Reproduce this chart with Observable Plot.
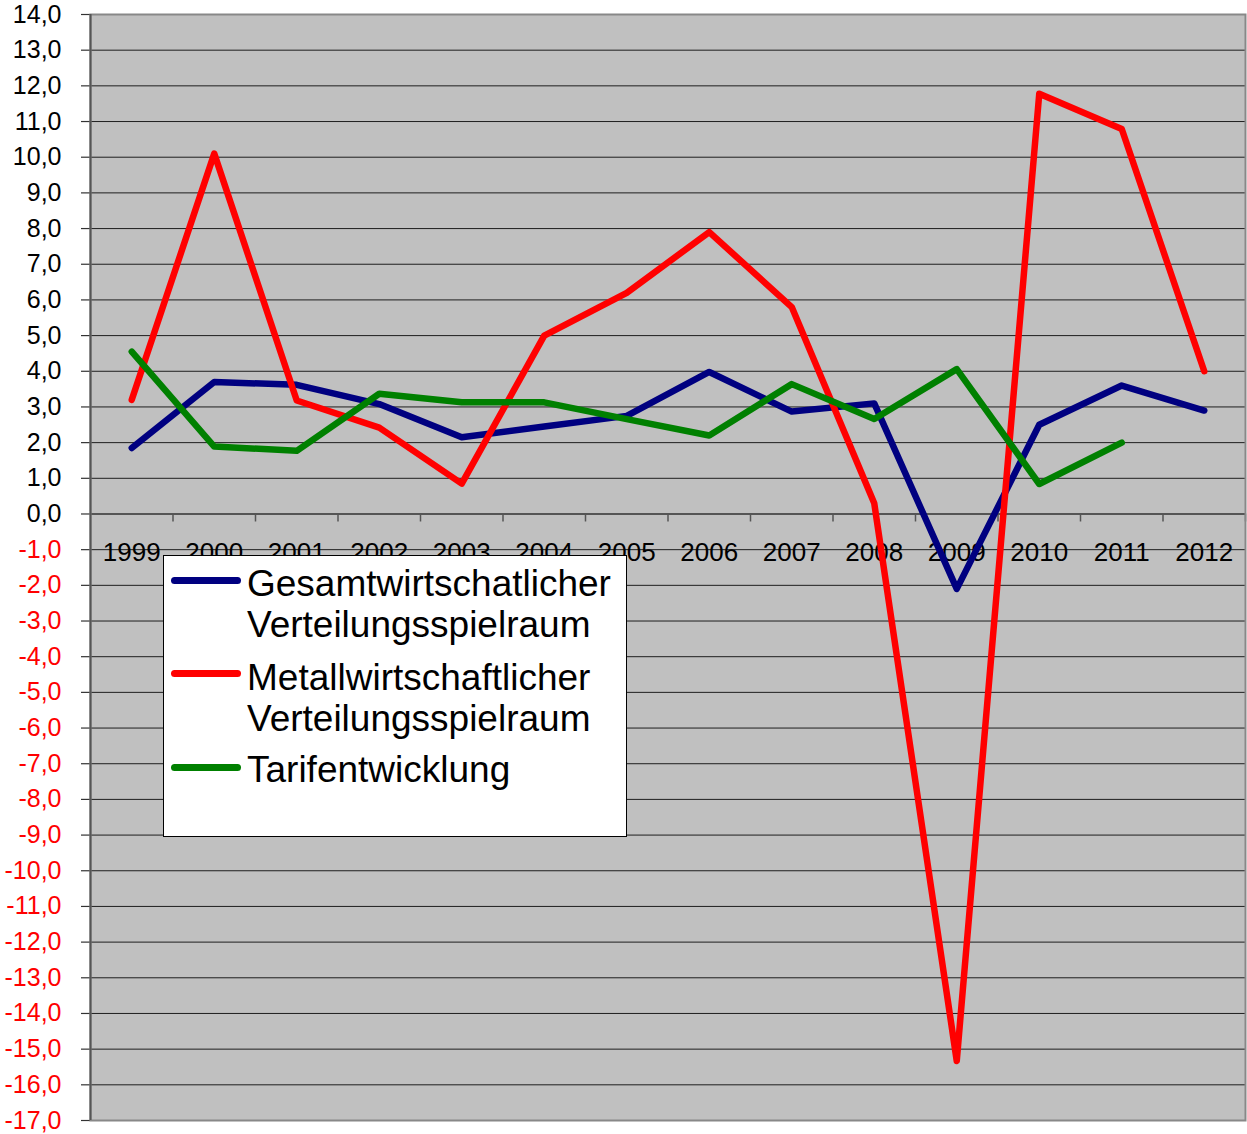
<!DOCTYPE html>
<html>
<head>
<meta charset="utf-8">
<script src="https://cdn.jsdelivr.net/npm/d3@7"></script>
<script src="https://cdn.jsdelivr.net/npm/@observablehq/plot@0.6"></script>
<style>
  body { margin: 0; background: #fff; font-family: "Liberation Sans", Arial, sans-serif; }
  #wrap { position: relative; width: 1247px; height: 1134px; }
  #legend { position: absolute; left: 163px; top: 555px; width: 462px; height: 280px; background: #fff; border: 1px solid #000; }
  .sw { position: absolute; left: 7px; width: 70px; height: 7px; border-radius: 4px; }
  .lt { position: absolute; left: 83px; font-size: 37px; line-height: 41px; color: #000; white-space: nowrap; }
</style>
</head>
<body>
<div id="wrap">
  <div id="chart"></div>
  <div id="legend"></div>
</div>
<script>
const years = [1999, 2000, 2001, 2002, 2003, 2004, 2005, 2006, 2007, 2008, 2009, 2010, 2011, 2012];
const gesamt = [1.85, 3.7, 3.62, 3.08, 2.15, 2.45, 2.75, 3.98, 2.87, 3.1, -2.1, 2.5, 3.6, 2.9];
const metall = [3.2, 10.1, 3.18, 2.42, 0.85, 5.0, 6.2, 7.9, 5.8, 0.3, -15.33, 11.78, 10.79, 4.0];
const tarif = [4.55, 1.89, 1.77, 3.37, 3.13, 3.13, 2.66, 2.2, 3.64, 2.66, 4.06, 0.84, 2.0, null];
const seriesNames = ["Gesamtwirtschatlicher Verteilungsspielraum", "Metallwirtschaftlicher Verteilungsspielraum", "Tarifentwicklung"];
const seriesLabels = [["Gesamtwirtschatlicher", "Verteilungsspielraum"], ["Metallwirtschaftlicher", "Verteilungsspielraum"], ["Tarifentwicklung"]];
const seriesColors = ["#000080", "#ff0000", "#008000"];
const yTicks = [-17, -16, -15, -14, -13, -12, -11, -10, -9, -8, -7, -6, -5, -4, -3, -2, -1, 0, 1, 2, 3, 4, 5, 6, 7, 8, 9, 10, 11, 12, 13, 14];

const seriesValues = [gesamt, metall, tarif];
const rows = [];
seriesNames.forEach((name, s) => {
  years.forEach((yr, i) => {
    const v = seriesValues[s][i];
    if (v != null) rows.push({series: name, year: yr, value: v});
  });
});

const x0 = years[0] - 0.5;
const x1 = years[years.length - 1] + 0.5;
const boundaries = years.map(y => y + 0.5);
const gridTicks = yTicks.filter(t => t !== 0 && t !== yTicks[0] && t !== yTicks[yTicks.length - 1]);
const fmt = d => d.toFixed(1).replace(".", ",");

const chart = Plot.plot({
  width: 1247,
  height: 1134,
  marginLeft: 90,
  marginRight: 2,
  marginTop: 14,
  marginBottom: 14,
  style: {fontFamily: "'Liberation Sans', Arial, sans-serif", background: "#fff", overflow: "visible"},
  x: {domain: [x0, x1], axis: null},
  y: {domain: [yTicks[0], yTicks[yTicks.length - 1]], axis: null},
  color: {domain: seriesNames, range: seriesColors},
  marks: [
    Plot.frame({fill: "#c0c0c0"}),
    Plot.ruleY(gridTicks, {stroke: "#1e1e1e", strokeWidth: 1}),
    Plot.ruleY([0], {stroke: "#555", strokeWidth: 2}),
    Plot.ruleX(boundaries, {y1: 0, y2: 0, insetBottom: -8, stroke: "#555", strokeWidth: 1.5}),
    Plot.ruleY(yTicks, {x1: x0, x2: x0, insetLeft: -9, stroke: "#333", strokeWidth: 1.2}),
    Plot.frame({stroke: "#888", strokeWidth: 2}),
    Plot.ruleX([x0], {stroke: "#555", strokeWidth: 2}),
    Plot.text(yTicks, {y: d => d, text: fmt, frameAnchor: "left", textAnchor: "end", dx: -29, fill: d => d < 0 ? "#ff0000" : "#000000", fontSize: 25}),
    Plot.text(years, {x: d => d, y: 0, text: d => String(d), dy: 39, fill: "#000", fontSize: 26}),
    Plot.line(rows, {x: "year", y: "value", z: "series", stroke: "series", strokeWidth: 6.5, strokeLinecap: "round", strokeLinejoin: "round"})
  ]
});
document.getElementById("chart").appendChild(chart);

const legend = document.getElementById("legend");
const swTops = [21, 114, 208];
const txTops = [7, 101, 193];
seriesNames.forEach((name, i) => {
  const sw = document.createElement("div");
  sw.className = "sw";
  sw.style.top = swTops[i] + "px";
  sw.style.background = seriesColors[i];
  legend.appendChild(sw);
  const t = document.createElement("div");
  t.className = "lt";
  t.style.top = txTops[i] + "px";
  t.innerHTML = seriesLabels[i].join("<br>");
  legend.appendChild(t);
});
</script>
</body>
</html>
